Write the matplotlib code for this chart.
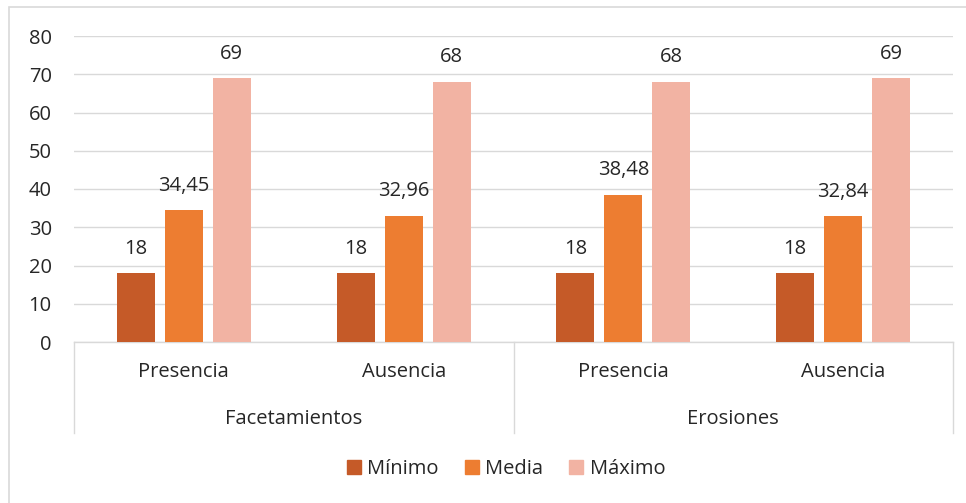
import matplotlib.pyplot as plt
from matplotlib.patches import Patch, Rectangle

# Data
groups = ['Facetamientos', 'Erosiones']
categories = ['Presencia', 'Ausencia', 'Presencia', 'Ausencia']
series_names = ['Mínimo', 'Media', 'Máximo']
minimo = [18, 18, 18, 18]
media = [34.45, 32.96, 38.48, 32.84]
maximo = [69, 68, 68, 69]
yticks = [0, 10, 20, 30, 40, 50, 60, 70, 80]

colors = ['#C55A28', '#ED7D31', '#F2B3A3']
text_color = '#262626'
grid_color = '#D9D9D9'

plt.rcParams['font.family'] = ['Open Sans', 'DejaVu Sans']
FS = 14.5

W, H = 966, 503
fig = plt.figure(figsize=(W / 100, H / 100), dpi=100)

# chart area border
fig.patches.append(Rectangle((9 / W, -0.1), 1.2, 1 - 7 / H + 0.1,
                             transform=fig.transFigure, fill=False,
                             edgecolor=grid_color, linewidth=1.2))

ax_left, ax_right = 74, 953
ax_top, ax_bottom = 36, 342
ax = fig.add_axes([ax_left / W, 1 - ax_bottom / H,
                   (ax_right - ax_left) / W, (ax_bottom - ax_top) / H])

width = 0.173
step = 0.218
x = list(range(len(categories)))
for i, (vals, name) in enumerate(zip([minimo, media, maximo], series_names)):
    xs = [xi + (i - 1) * step for xi in x]
    ax.bar(xs, vals, width=width, color=colors[i], label=name, zorder=3)
    for xx, v in zip(xs, vals):
        lab = f'{v:g}'.replace('.', ',')
        ax.annotate(lab, (xx, v), xytext=(0, 14), textcoords='offset points',
                    ha='center', va='baseline', fontsize=FS, color=text_color)

ax.set_xlim(-0.5, len(categories) - 0.5)
ax.set_ylim(0, 80)
ax.set_yticks(yticks)
ax.set_xticks([])
ax.tick_params(axis='y', length=0, pad=16, labelsize=FS, labelcolor=text_color)
ax.grid(axis='y', color=grid_color, linewidth=1.0, zorder=0)
for s in ['top', 'right', 'left']:
    ax.spines[s].set_visible(False)
ax.spines['bottom'].set_color(grid_color)
ax.spines['bottom'].set_linewidth(1.0)

# multi-level category axis
trans = ax.get_xaxis_transform()
ah = ax_bottom - ax_top
for xi, cat in zip(x, categories):
    ax.text(xi, -(372 - ax_bottom) / ah, cat, transform=trans, ha='center',
            va='center', fontsize=FS, color=text_color)
for gi, g in enumerate(groups):
    ax.text(gi * 2 + 0.5, -(419 - ax_bottom) / ah, g, transform=trans,
            ha='center', va='center', fontsize=FS, color=text_color)
for sx in [-0.5, 1.5, 3.5]:
    ax.plot([sx, sx], [0, -(433 - ax_bottom) / ah], transform=trans,
            color=grid_color, linewidth=1.0, clip_on=False)

handles = [Patch(color=c) for c in colors]
fig.legend(handles, series_names, loc='center', bbox_to_anchor=(0.524, 1 - 469 / H),
           ncol=3, frameon=False, fontsize=FS, handlelength=0.7, handleheight=0.7,
           handletextpad=0.3, columnspacing=1.3, labelcolor=text_color)

fig.savefig('out.png', dpi=100)
